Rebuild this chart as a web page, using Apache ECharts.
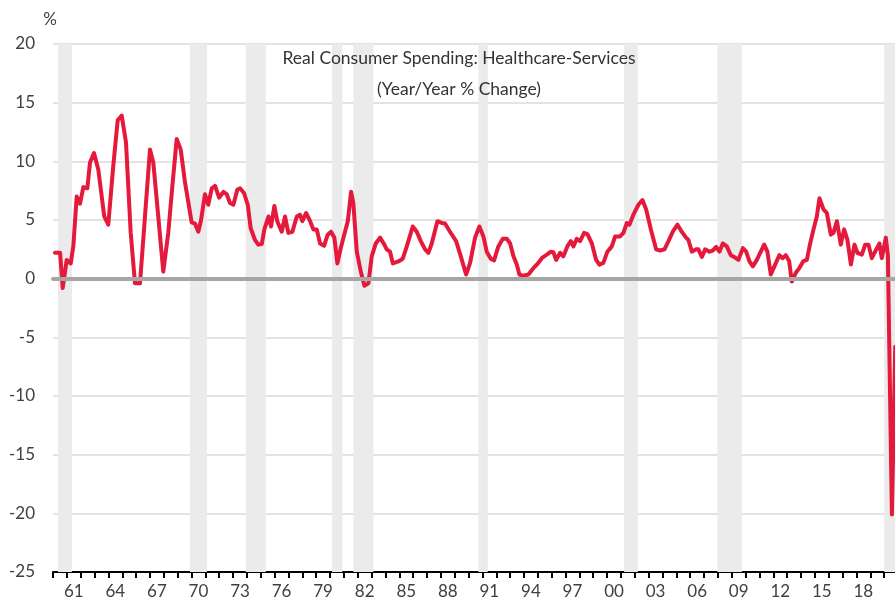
<!DOCTYPE html>
<html>
<head>
<meta charset="utf-8">
<script src="https://cdn.jsdelivr.net/npm/echarts@6/dist/echarts.min.js"></script>
<style>
  html, body { margin: 0; padding: 0; background: #fff; }
  #chart { width: 895px; height: 605px; }
</style>
</head>
<body>
<div id="chart"></div>
<script>
// year/year % change (decimal year, value)
var dates = [
  1960.14,1960.51,1960.70,1960.99,1961.28,1961.47,1961.71,1961.95,1962.19,1962.48,1962.67,1962.96,1963.27,1963.70,1963.99,1964.35,1964.67,1964.96,
  1965.27,1965.61,1965.92,1966.28,1966.64,1967.00,1967.24,1967.60,1967.96,1968.32,1968.64,1968.93,1969.22,1969.53,
  1970.01,1970.25,1970.49,1970.69,1970.97,1971.21,1971.46,1971.70,1971.99,1972.30,1972.54,1972.78,1973.02,1973.31,1973.50,1973.79,1974.06,1974.27,1974.58,1974.82,
  1975.07,1975.26,1975.55,1975.74,1975.98,1976.19,1976.51,1976.75,1976.99,1977.28,1977.60,1977.83,1978.00,1978.27,1978.56,1978.79,1979.04,1979.28,1979.57,1979.83,
  1980.07,1980.31,1980.53,1980.77,1981.08,1981.28,1981.52,1981.68,1981.93,1982.22,1982.48,1982.77,1983.01,1983.30,1983.61,1983.92,1984.09,1984.33,1984.53,1984.93,
  1985.25,1985.54,1985.97,1986.26,1986.55,1986.86,1987.10,1987.34,1987.75,1988.06,1988.30,1988.66,1989.10,1989.44,1989.82,
  1990.11,1990.47,1990.78,1991.07,1991.31,1991.60,1991.84,1992.15,1992.47,1992.76,1993.00,1993.24,1993.48,1993.67,1993.96,1994.32,1994.68,
  1995.04,1995.33,1995.65,1995.94,1996.12,1996.32,1996.61,1996.84,1997.13,1997.38,1997.57,1997.81,1998.05,1998.34,1998.58,1998.90,1999.21,1999.44,1999.73,
  2000.02,2000.34,2000.58,2000.94,2001.18,2001.42,2001.61,2001.90,2002.26,2002.55,2002.82,2003.16,2003.54,2003.83,2004.14,2004.43,2004.74,
  2005.08,2005.39,2005.70,2005.87,2006.12,2006.43,2006.59,2006.84,2007.08,2007.39,2007.63,2007.87,2008.11,2008.35,2008.64,2008.93,2009.24,2009.48,2009.80,
  2010.04,2010.27,2010.52,2010.81,2011.05,2011.34,2011.57,2011.82,2012.13,2012.44,2012.66,2012.90,2013.14,2013.33,2013.62,2013.88,2014.17,2014.42,2014.66,2014.90,
  2015.14,2015.33,2015.62,2015.86,2016.15,2016.34,2016.59,2016.87,2017.11,2017.35,2017.60,2017.86,2018.07,2018.39,2018.63,2018.87,2019.11,2019.35,2019.66,2019.83,2020.12,2020.27,2020.56,2020.80
];
var values = [
  2.2,2.2,-0.8,1.6,1.3,2.8,7.0,6.4,7.8,7.7,9.9,10.7,9.3,5.3,4.6,9.6,13.5,13.9,
  11.6,3.9,-0.4,-0.4,5.3,11.0,9.9,5.3,0.6,3.9,8.2,11.9,11.0,8.2,
  4.8,4.7,4.0,5.0,7.2,6.3,7.7,7.9,6.9,7.4,7.2,6.45,6.3,7.6,7.7,7.3,6.3,4.3,3.3,2.9,
  2.95,4.2,5.3,4.45,6.2,4.9,4.0,5.3,3.9,4.0,5.3,5.45,4.9,5.6,4.9,4.2,4.2,3.0,2.8,3.75,
  4.0,3.5,1.3,2.6,4.0,4.9,7.4,6.45,2.3,0.6,-0.6,-0.4,1.9,3.0,3.5,2.9,2.5,2.3,1.3,1.47,
  1.7,2.75,4.45,4.0,3.2,2.5,2.2,3.0,4.9,4.75,4.7,4.0,3.2,1.9,0.35,
  1.35,3.5,4.45,3.6,2.3,1.7,1.56,2.75,3.4,3.4,3.0,1.9,1.2,0.35,0.25,0.35,0.9,
  1.35,1.8,2.05,2.3,2.25,1.6,2.2,1.9,2.75,3.2,2.75,3.4,3.2,3.9,3.8,3.0,1.6,1.2,1.35,
  2.3,2.75,3.6,3.6,3.9,4.74,4.6,5.45,6.3,6.7,5.9,4.2,2.5,2.4,2.5,3.2,4.0,
  4.6,4.0,3.5,3.3,2.3,2.5,2.5,1.85,2.5,2.3,2.4,2.7,2.3,3.0,2.75,2.0,1.8,1.6,2.6,
  2.3,1.5,1.05,1.6,2.2,2.9,2.3,0.35,1.2,2.0,1.75,2.0,1.5,-0.25,0.5,0.9,1.5,1.6,3.0,4.2,
  5.3,6.85,5.9,5.6,3.75,3.9,4.9,2.9,4.2,3.3,1.2,2.9,2.2,2.05,2.9,2.9,1.75,2.3,3.0,1.75,3.5,2.0,-20.1,-5.8
];

// recession bands (start, end)
var recessions = [
  [1960.36, 1961.37], [1969.89, 1971.12], [1973.91, 1975.36], [1980.14, 1980.89],
  [1981.68, 1983.13], [1990.71, 1991.39], [2001.23, 2002.22], [2007.96, 2009.73],
  [2020.0, 2021.0]
];

var tickLabels = ['61','64','67','70','73','76','79','82','85','88','91','94','97','00','03','06','09','12','15','18'];

var years = [];
for (var y = 1960; y <= 2020; y++) years.push(String(y));

var FONT = 'Lato';
var chart = echarts.init(document.getElementById('chart'), null, { renderer: 'canvas' });

chart.setOption({
  animation: false,
  textStyle: { fontFamily: FONT },
  graphic: [
    { type: 'text', x: 50, y: 20, z: 100, style: { text: '%', font: '17px ' + FONT, fill: '#404040', textAlign: 'center', textVerticalAlign: 'middle' } },
    { type: 'text', x: 459, y: 58, z: 100, style: { text: 'Real Consumer Spending: Healthcare-Services', font: '17.5px ' + FONT, fill: '#333', textAlign: 'center', textVerticalAlign: 'middle' } },
    { type: 'text', x: 459, y: 89, z: 100, style: { text: '(Year/Year % Change)', font: '17.5px ' + FONT, fill: '#333', textAlign: 'center', textVerticalAlign: 'middle' } }
  ],
  grid: { left: 53, right: -3, top: 44, bottom: 33, containLabel: false, outerBoundsMode: 'none' },
  xAxis: [
    {
      type: 'category',
      data: years,
      boundaryGap: true,
      axisLine: { onZero: false, lineStyle: { color: '#000', width: 2 } },
      axisTick: { show: true, interval: 0, length: 6, lineStyle: { color: '#000', width: 2 } },
      axisLabel: {
        interval: 0,
        margin: 11,
        fontSize: 17,
        color: '#404040',
        formatter: function (v) {
          var s = v.slice(2);
          return tickLabels.indexOf(s) >= 0 ? s : '';
        }
      },
      splitLine: { show: false }
    },
    {
      type: 'value',
      min: 1960,
      max: 2021,
      show: false,
      axisLine: { onZero: false }
    }
  ],
  yAxis: {
    type: 'value',
    min: -25,
    max: 20,
    interval: 5,
    axisLine: { show: false },
    axisTick: { show: false },
    axisLabel: { fontSize: 17, color: '#404040', margin: 18 },
    splitLine: { lineStyle: { color: '#dadada', width: 1.5 } }
  },
  series: [
    {
      // recession shading
      type: 'line',
      xAxisIndex: 1,
      data: [],
      silent: true,
      z: 1,
      markArea: {
        silent: true,
        itemStyle: { color: '#ebebeb' },
        data: recessions.map(function (r) { return [{ xAxis: r[0] }, { xAxis: r[1] }]; })
      }
    },
    {
      // zero line
      type: 'line',
      xAxisIndex: 1,
      data: [],
      silent: true,
      z: 2,
      markLine: {
        silent: true,
        symbol: ['none', 'none'],
        label: { show: false },
        lineStyle: { color: '#a6a6a6', width: 4, type: 'solid', cap: 'round' },
        data: [{ yAxis: 0 }]
      }
    },
    {
      name: 'Healthcare-Services',
      type: 'line',
      xAxisIndex: 1,
      z: 3,
      data: dates.map(function (d, i) { return [d, values[i]]; }),
      showSymbol: false,
      smooth: false,
      lineStyle: { color: '#e4193b', width: 4, join: 'round', cap: 'round' }
    }
  ]
});
</script>
</body>
</html>
